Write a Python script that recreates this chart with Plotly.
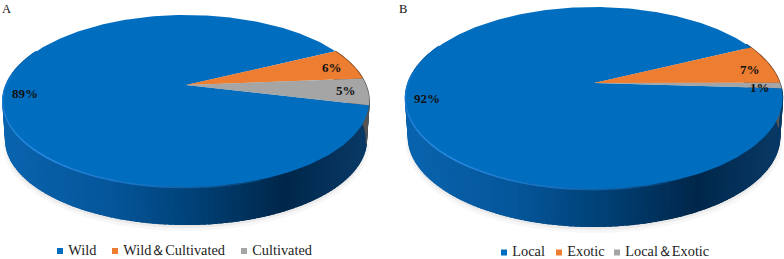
import math
import plotly.graph_objects as go

# ---- data ----
categories_a = ["Wild", "Wild＆Cultivated", "Cultivated"]
values_a = [89, 6, 5]
categories_b = ["Local", "Exotic", "Local＆Exotic"]
values_b = [92, 7, 1]
colors = ["#006DBE", "#ED7D31", "#A5A5A5"]
side_colors = ["#004c8a", "#7a3f17", "#555555"]

FONT = "Liberation Serif"
side_stops = [(0.0, (10, 100, 174)), (0.3, (5, 86, 154)), (0.55, (0, 63, 115)),
              (0.78, (0, 39, 75)), (1.0, (10, 58, 102))]


def side_color(f):
    f = max(0.0, min(1.0, f))
    for (f0, c0), (f1, c1) in zip(side_stops, side_stops[1:]):
        if f <= f1:
            t = (f - f0) / (f1 - f0)
            return "rgb(%d,%d,%d)" % tuple(c0[i] + (c1[i] - c0[i]) * t for i in range(3))
    return "rgb(10,58,102)"


fig = go.Figure()


def poly(xs, ys, color, line=0.0):
    fig.add_trace(go.Scatter(x=xs, y=ys, mode="lines", fill="toself", fillcolor=color,
                             line=dict(color=color, width=line), hoverinfo="skip", showlegend=False))


def draw_pie(values, cx, cy, a, b, k, depth, start):
    """Perspective-projected disc; slices run clockwise from the start angle."""
    def proj(deg, s=1.0, dy=0.0):
        t = math.radians(deg)
        u, v = math.cos(t), math.sin(t)
        w = 1 + k * v
        return cx + s * a * u / w, cy - s * b * v / w + dy

    # soft shadow beneath the disc
    for s, dy, op in [(1.0, 5, 0.05), (0.99, 3, 0.07), (0.985, 1, 0.09)]:
        pts = [proj(d, s, depth + dy) for d in range(0, 361, 3)]
        poly([p[0] for p in pts], [p[1] for p in pts], "rgba(90,90,90,%.2f)" % op)

    # slice angle ranges
    total = sum(values)
    spans = []
    end = start + 360
    for val in values:
        sweep = 360 * val / total
        spans.append((end - sweep, end))
        end -= sweep

    # side wall, one thin strip per angular step (strips overlap to hide seams)
    x_left, x_right = proj(180)[0], proj(0)[0]
    for i, (lo, hi) in enumerate(spans):
        n = max(2, int((hi - lo) / 1.5))
        for j in range(n):
            d0 = lo + (hi - lo) * j / n
            d1 = lo + (hi - lo) * (j + 1) / n
            if math.sin(math.radians((d0 + d1) / 2)) > 0.45:
                continue
            p0, p1 = proj(d0), proj(d1 + 1.0 if i == 0 else d1)
            q1, q0 = proj(d1 + 1.0 if i == 0 else d1, 0.985, depth), proj(d0, 0.985, depth)
            f = ((p0[0] + p1[0]) / 2 - x_left) / (x_right - x_left)
            col = side_color(f) if i == 0 else side_colors[i]
            poly([p0[0], p1[0], q1[0], q0[0]], [p0[1], p1[1], q1[1], q0[1]], col, 1.2)

    # top face
    for i, (lo, hi) in enumerate(spans):
        n = max(3, int(hi - lo))
        pts = [proj(lo + (hi - lo) * j / n) for j in range(n + 1)]
        poly([cx] + [p[0] for p in pts] + [cx], [cy] + [p[1] for p in pts] + [cy], colors[i])

    # bevel highlight along the front-left rim
    pts = [proj(d) for d in range(172, 292, 2)]
    for p0, p1, d in zip(pts, pts[1:], range(172, 292, 2)):
        t = 1 - abs(d - 225) / 65
        op = 0.15 + 0.75 * max(0, t)
        fig.add_trace(go.Scatter(x=[p0[0], p1[0]], y=[p0[1] + 0.6, p1[1] + 0.6], mode="lines",
                                 line=dict(color="rgba(45,145,235,%.2f)" % op, width=1.6),
                                 hoverinfo="skip", showlegend=False))


draw_pie(values_a, 186, 85, 180, 83, 0.186, 39, -13.5)
draw_pie(values_b, 594, 83, 186, 88.5, 0.165, 39, -3.4)


def label(x, y, text):
    fig.add_annotation(x=x, y=y, text="<b>%s</b>" % text, showarrow=False,
                       font=dict(family=FONT, size=13, color="#111111"),
                       xanchor="center", yanchor="middle")


for (x, y), v in zip([(25, 93), (332, 67), (346, 90)], values_a):
    label(x, y, "%d%%" % v)
for (x, y), v in zip([(427, 98), (750, 69), (760, 87)], values_b):
    label(x, y, "%d%%" % v)
for x, t in [(0, "A"), (397, "B")]:
    fig.add_annotation(x=x, y=0, text=t, showarrow=False, xanchor="left", yanchor="top",
                       font=dict(family=FONT, size=12.5, color="#111111"))


def legend(items, xs, y):
    for name, color, x in zip(items, colors, xs):
        fig.add_trace(go.Scatter(x=[x], y=[y], mode="markers+text", text=["\u00a0" + name],
                                 textposition="middle right",
                                 textfont=dict(family=FONT, size=14.3, color="#222222"),
                                 marker=dict(symbol="square", size=6, color=color),
                                 hoverinfo="skip", showlegend=False))


legend(categories_a, [60, 115, 244], 251)
legend(categories_b, [504, 559, 617], 252.5)

fig.update_xaxes(range=[0, 784], visible=False, fixedrange=True)
fig.update_yaxes(range=[259, 0], visible=False, fixedrange=True)
fig.update_layout(width=784, height=259, margin=dict(l=0, r=0, t=0, b=0), autosize=False,
                  paper_bgcolor="white", plot_bgcolor="white", showlegend=False)
fig.write_html("out.html", config={"displayModeBar": False},
               post_script="document.body.style.margin='0';")
